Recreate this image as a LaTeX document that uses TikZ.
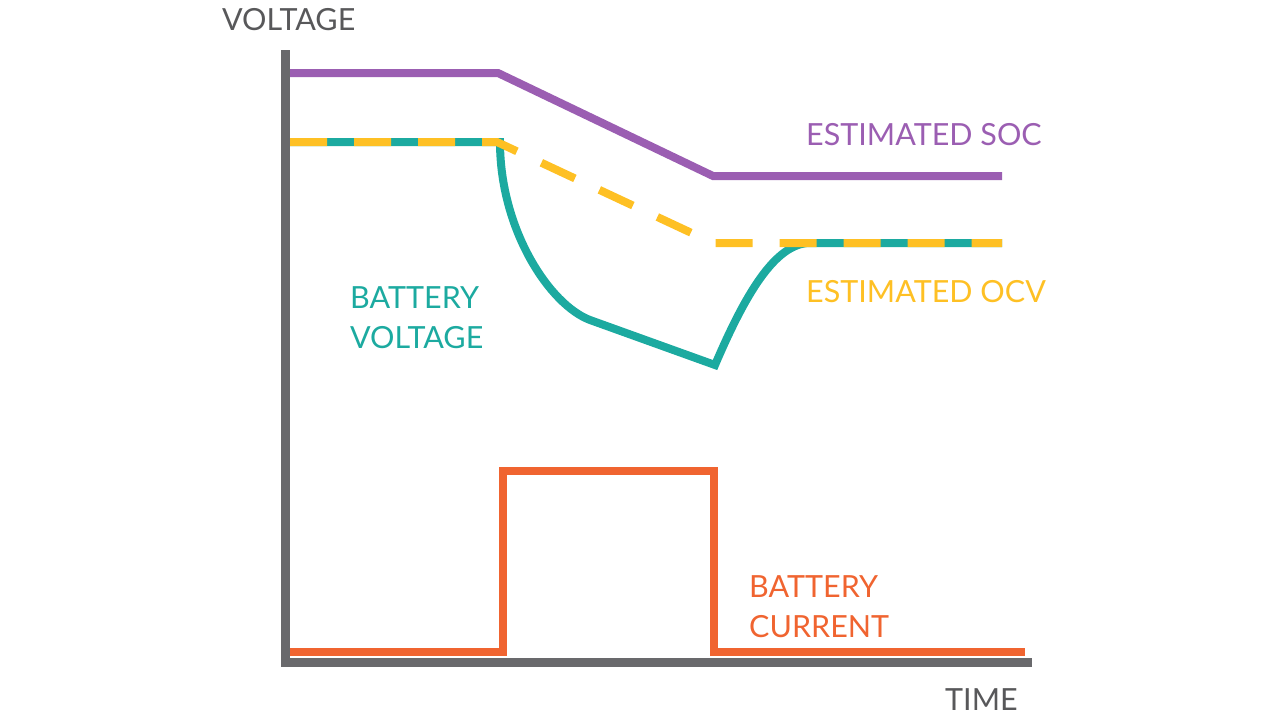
\documentclass[tikz,border=0pt]{standalone}
\usepackage{fontspec}
\setmainfont{Lato}
\usepackage{tikz}
\usetikzlibrary{calc}

\definecolor{axisgray}{RGB}{105,105,108}
\definecolor{textgray}{RGB}{88,88,90}
\definecolor{socpurple}{RGB}{155,94,178}
\definecolor{ocvyellow}{RGB}{254,192,36}
\definecolor{battteal}{RGB}{28,170,160}
\definecolor{currorange}{RGB}{240,100,48}

\tikzset{
  curve/.style={line width=8pt, line cap=butt, line join=miter},
  lbl/.style={anchor=west, inner sep=0pt, font=\fontsize{30.5}{40}\selectfont, align=left}
}

\begin{document}
\begin{tikzpicture}[x=1pt,y=-1pt]
\useasboundingbox (0,0) rectangle (1280,721);

\draw[axisgray, line width=9pt] (285,50) -- (285,662) -- (1032,662);

\draw[curve, socpurple] (290,73) -- (498,73) -- (713,176) -- (1002,176);

\draw[curve, battteal] (290,142) -- (500,142) .. controls (500,230) and (550,305) .. (590,320) -- (715,365) .. controls (745,295) and (775,243) .. (810,243) -- (1002,243);

\draw[curve, ocvyellow, dash pattern=on 37pt off 27pt] (290,142) -- (497,142) -- (713,243) -- (1002,243);

\draw[curve, currorange] (290,652) -- (503,652) -- (503,471) -- (714,471) -- (714,652) -- (1025,652);

\node[lbl, textgray] (vlab) at (222,20) {VOLTAGE};
\node[lbl, textgray] (tlab) at (945,700) {TIME};
\node[lbl, socpurple] (soc) at (806,135) {ESTIMATED SOC};
\node[lbl, ocvyellow] (ocv) at (806,292) {ESTIMATED OCV};
\node[lbl, battteal] (bv) at (350,318) {BATTERY\\VOLTAGE};
\node[lbl, currorange] (bc) at (749,607) {BATTERY\\CURRENT};
\end{tikzpicture}
\end{document}
